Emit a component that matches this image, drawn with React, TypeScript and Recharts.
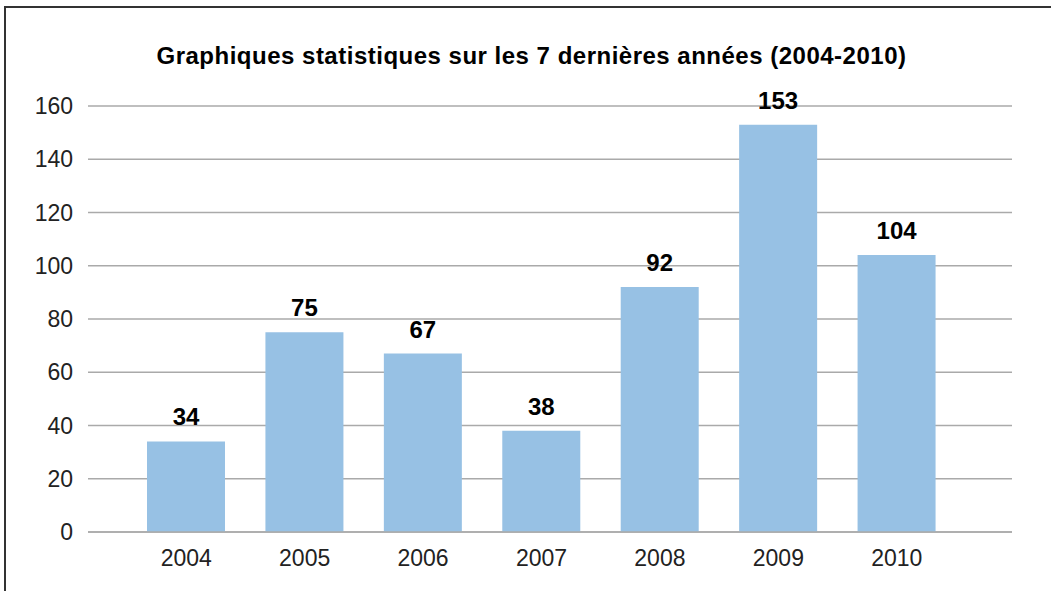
import { BarChart, Bar, XAxis, YAxis, CartesianGrid, LabelList } from 'recharts';

const years = ['2004', '2005', '2006', '2007', '2008', '2009', '2010'];
const counts = [34, 75, 67, 38, 92, 153, 104];
const yTicks = [0, 20, 40, 60, 80, 100, 120, 140, 160];

const data = years.map((year, i) => ({ year, count: counts[i] }));

const font = '"Liberation Sans", Arial, Helvetica, sans-serif';

export default function App() {
  return (
    <div
      style={{
        position: 'absolute',
        left: 0,
        top: 0,
        width: 1051,
        height: 591,
        overflow: 'hidden',
        background: '#fff',
        fontFamily: font,
      }}
    >
      <div
        style={{
          position: 'absolute',
          left: 4,
          top: 6,
          width: 1100,
          height: 650,
          border: '2px solid #333',
          boxSizing: 'border-box',
        }}
      />
      <div
        style={{
          position: 'absolute',
          left: 6,
          top: 42,
          width: 1051,
          textAlign: 'center',
          fontSize: 24,
          letterSpacing: 0.5,
          fontWeight: 'bold',
          color: '#000',
        }}
      >
        Graphiques statistiques sur les 7 dernières années (2004-2010)
      </div>
      <div style={{ position: 'absolute', left: 0, top: 0 }}>
        <BarChart
          width={1051}
          height={591}
          data={data}
          margin={{ top: 106, right: 39, bottom: 19, left: 0 }}
          barSize={78}
        >
          <CartesianGrid vertical={false} stroke="#aaaaaa" strokeWidth={1.5} />
          <XAxis
            dataKey="year"
            padding={{ left: 39, right: 56 }}
            tickLine={false}
            axisLine={{ stroke: '#aaaaaa', strokeWidth: 1.5 }}
            tick={{ fill: '#222', fontSize: 23, fontFamily: font }}
            tickMargin={12}
            height={40}
          />
          <YAxis
            domain={[0, 160]}
            ticks={yTicks}
            width={88}
            axisLine={false}
            tickLine={false}
            tickSize={0}
            tickMargin={15}
            tick={{ fill: '#222', fontSize: 23, fontFamily: font }}
          />
          <Bar dataKey="count" fill="#97c1e4" isAnimationActive={false}>
            <LabelList
              dataKey="count"
              position="top"
              offset={16}
              fill="#000"
              fontSize={24}
              fontWeight="bold"
              fontFamily={font}
            />
          </Bar>
        </BarChart>
      </div>
    </div>
  );
}
